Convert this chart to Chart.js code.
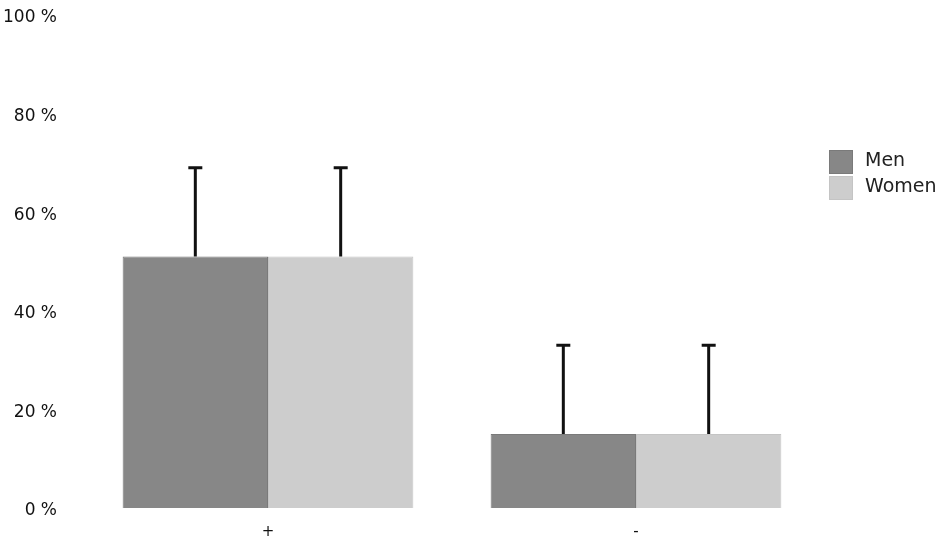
<!DOCTYPE html>
<html lang="en">
<head>
  <meta charset="UTF-8">
  <title>Men vs Women</title>
  <script src="https://cdn.jsdelivr.net/npm/chart.js"></script>
  <style>
    body { margin: 0; background: #fff; }
    #wrap { width: 950px; height: 542px; }
  </style>
</head>
<body>
<div id="wrap"><canvas id="chart"></canvas></div>
<script>
// data
const categories = ["+", "-"];
const menValues = [51, 15];
const womenValues = [51, 15];
const menErrors = [18, 18];
const womenErrors = [18, 18];
const yTicks = [0, 20, 40, 60, 80, 100];

const FONT = "'DejaVu Sans', sans-serif";

// draws the upper error whiskers on top of each bar
const errorBars = {
  id: 'errorBars',
  afterDatasetsDraw(chart) {
    const ctx = chart.ctx;
    const y = chart.scales.y;
    chart.data.datasets.forEach((ds, i) => {
      const meta = chart.getDatasetMeta(i);
      meta.data.forEach((bar, j) => {
        const top = y.getPixelForValue(ds.data[j] + ds.errors[j]);
        ctx.save();
        ctx.strokeStyle = '#111';
        ctx.lineWidth = 3;
        ctx.beginPath();
        ctx.moveTo(bar.x, bar.y);
        ctx.lineTo(bar.x, top);
        ctx.moveTo(bar.x - 7, top);
        ctx.lineTo(bar.x + 7, top);
        ctx.stroke();
        ctx.restore();
      });
    });
  }
};

// legend off to the right, a bit below the top
const sideLegend = {
  id: 'sideLegend',
  afterDraw(chart) {
    const ctx = chart.ctx;
    ctx.save();
    ctx.font = '19px ' + FONT;
    ctx.textBaseline = 'middle';
    chart.data.datasets.forEach((ds, i) => {
      const top = 150 + i * 26;
      ctx.fillStyle = ds.borderColor;
      ctx.fillRect(829, top, 24, 24);
      ctx.fillStyle = ds.backgroundColor;
      ctx.fillRect(830, top + 1, 22, 22);
      ctx.fillStyle = '#222';
      ctx.fillText(ds.label, 865, top + 11);
    });
    ctx.restore();
  }
};

new Chart(document.getElementById('chart'), {
  type: 'bar',
  data: {
    labels: categories,
    datasets: [
      { label: 'Men', data: menValues, errors: menErrors,
        backgroundColor: '#878787', borderColor: '#7a7a7a', borderWidth: 1 },
      { label: 'Women', data: womenValues, errors: womenErrors,
        backgroundColor: '#cdcdcd', borderColor: '#c4c4c4', borderWidth: 1 }
    ]
  },
  options: {
    responsive: true,
    maintainAspectRatio: false,
    animation: false,
    layout: { padding: { top: 15, right: 130, bottom: 0, left: 0 } },
    datasets: { bar: { categoryPercentage: 0.79, barPercentage: 1.0 } },
    plugins: {
      legend: { display: false },
      tooltip: { enabled: false }
    },
    scales: {
      x: {
        grid: { display: false, drawTicks: false },
        border: { display: false },
        ticks: { color: '#111', font: { family: FONT, size: 15 }, padding: 15 },
        afterFit(s) { s.height = 34; }
      },
      y: {
        min: 0,
        max: 100,
        afterBuildTicks(s) { s.ticks = yTicks.map(v => ({ value: v })); },
        grid: { display: false, drawTicks: false },
        border: { display: false },
        ticks: {
          color: '#111',
          font: { family: FONT, size: 17 },
          padding: 27,
          labelOffset: 3,
          callback: v => v + ' %'
        },
        afterFit(s) { s.width = 84; s.paddingTop = 0; s.paddingBottom = 0; }
      }
    }
  },
  plugins: [errorBars, sideLegend]
});
</script>
</body>
</html>
